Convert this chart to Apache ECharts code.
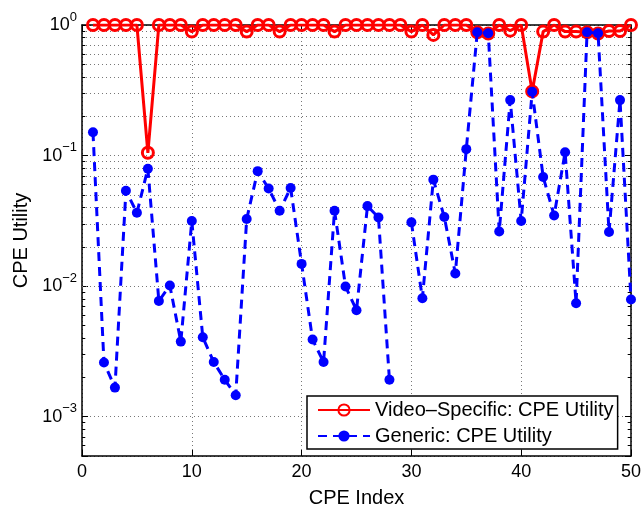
<!DOCTYPE html>
<html>
<head>
<meta charset="utf-8">
<script src="https://cdn.jsdelivr.net/npm/echarts@6/dist/echarts.min.js"></script>
<style>
html,body{margin:0;padding:0;background:#fff;}
#chart{width:644px;height:513px;}
</style>
</head>
<body>
<div id="chart"></div>
<script>
const cpeIndex = [1,2,3,4,5,6,7,8,9,10,11,12,13,14,15,16,17,18,19,20,21,22,23,24,25,26,27,28,29,30,31,32,33,34,35,36,37,38,39,40,41,42,43,44,45,46,47,48,49,50];
const videoSpecific = [1,1,1,1,1,0.105,1,1,1,0.89,1,1,1,1,0.89,1,1,0.89,1,1,1,1,0.89,1,1,1,1,1,1,0.89,1,0.84,1,1,1,0.88,0.86,1,0.905,1,0.31,0.89,1,0.89,0.89,0.88,0.86,0.9,0.9,1];
const generic = [0.151,0.0026,0.00167,0.0537,0.0365,0.0793,0.0077,0.0101,0.00376,0.0315,0.00406,0.00262,0.00192,0.00146,0.0327,0.076,0.0559,0.0378,0.0565,0.0148,0.0039,0.00262,0.0378,0.00995,0.00654,0.041,0.0336,0.00192,null,0.0308,0.00807,0.0654,0.0338,0.0125,0.112,0.88,0.865,0.0262,0.266,0.0315,0.308,0.0686,0.0348,0.106,0.0074,0.88,0.865,0.026,0.266,0.0079];
const xTicks = [0,10,20,30,40,50];
const yMinorTicks = [0.0005,0.0006,0.0007,0.0008,0.0009,
  0.002,0.003,0.004,0.005,0.006,0.007,0.008,0.009,
  0.02,0.03,0.04,0.05,0.06,0.07,0.08,0.09,
  0.2,0.3,0.4,0.5,0.6,0.7,0.8,0.9];
const seriesNames = ['Video\u2013Specific: CPE Utility','Generic: CPE Utility'];

const FONT = '"Liberation Sans", Arial, Helvetica, sans-serif';
const gridDot = {color:'#777', width:1, type:[1,3]};

function yLabel(v){
  const l = Math.log10(v);
  const e = Math.round(l);
  if (Math.abs(l - e) > 1e-6) return '';
  return '{b|10}{s|' + (e === 0 ? '0' : '\u2212' + (-e)) + '}';
}

const chart = echarts.init(document.getElementById('chart'), null, {renderer:'canvas'});

const minorGrid = yMinorTicks.map(v => ({yAxis: v}));
const minorTickMarks = [];
yMinorTicks.forEach(v => {
  minorTickMarks.push([{coord:[0, v]},{coord:[0.3, v]}]);
  minorTickMarks.push([{coord:[49.7, v]},{coord:[50, v]}]);
});

const option = {
  animation: false,
  backgroundColor: '#fff',
  textStyle: {fontFamily: FONT},
  grid: {left: 82, right: 12, top: 25, bottom: 54, containLabel: false},
  legend: {
    orient: 'vertical',
    left: 307, top: 396,
    padding: [3, 4, 2, 10],
    itemGap: 4,
    itemWidth: 52, itemHeight: 14,
    backgroundColor: '#fff',
    borderColor: '#000', borderWidth: 1.5,
    selectedMode: false,
    textStyle: {fontSize: 20, color: '#000', fontFamily: FONT, lineHeight: 22},
    data: seriesNames
  },
  xAxis: [{
    type: 'value', min: xTicks[0], max: xTicks[xTicks.length-1], interval: 10,
    position: 'bottom',
    axisLine: {show: true, onZero: false, lineStyle: {color: '#000', width: 1.5}},
    axisTick: {show: true, inside: true, length: 6, lineStyle: {color: '#000', width: 1}},
    axisLabel: {fontSize: 18, color: '#000', margin: 7, fontFamily: FONT},
    splitLine: {show: true, lineStyle: gridDot},
    name: 'CPE Index', nameLocation: 'middle', nameGap: 32,
    nameTextStyle: {fontSize: 20, color: '#000', fontFamily: FONT}
  },{
    type: 'value', min: xTicks[0], max: xTicks[xTicks.length-1], interval: 10,
    position: 'top',
    axisLine: {show: true, onZero: false, lineStyle: {color: '#000', width: 1.5}},
    axisTick: {show: true, inside: true, length: 6, lineStyle: {color: '#000', width: 1}},
    axisLabel: {show: false},
    splitLine: {show: false}
  }],
  yAxis: [{
    type: 'log', logBase: 10, min: 0.0005, max: 1,
    position: 'left',
    axisLine: {show: true, onZero: false, lineStyle: {color: '#000', width: 1.5}},
    axisTick: {show: true, inside: true, length: 6, lineStyle: {color: '#000', width: 1}},
    axisLabel: {
      color: '#000', margin: 5, fontFamily: FONT,
      formatter: yLabel,
      rich: {
        b: {fontSize: 18, color: '#000', fontFamily: FONT},
        s: {fontSize: 13, color: '#000', fontFamily: FONT, padding: [0,0,16,0]}
      }
    },
    splitLine: {show: true, lineStyle: gridDot},
    name: 'CPE Utility', nameLocation: 'middle', nameGap: 51,
    nameTextStyle: {fontSize: 20, color: '#000', fontFamily: FONT}
  },{
    type: 'log', logBase: 10, min: 0.0005, max: 1,
    position: 'right',
    axisLine: {show: true, onZero: false, lineStyle: {color: '#000', width: 1.5}},
    axisTick: {show: true, inside: true, length: 6, lineStyle: {color: '#000', width: 1}},
    axisLabel: {show: false},
    splitLine: {show: false}
  }],
  series: [{
    name: seriesNames[0],
    type: 'line',
    xAxisIndex: 0, yAxisIndex: 0,
    data: cpeIndex.map((x,i) => [x, videoSpecific[i]]),
    symbol: 'circle', symbolSize: 11,
    lineStyle: {color: '#ff0000', width: 3},
    itemStyle: {color: 'rgba(255,255,255,0)', borderColor: '#ff0000', borderWidth: 3},
    z: 3,
    markLine: {
      silent: true, symbol: ['none','none'], z: 1,
      label: {show: false},
      lineStyle: gridDot,
      emphasis: {disabled: true},
      data: minorGrid
    }
  },{
    name: seriesNames[1],
    type: 'line',
    xAxisIndex: 0, yAxisIndex: 0,
    data: cpeIndex.map((x,i) => [x, generic[i]]),
    connectNulls: false,
    symbol: 'circle', symbolSize: 10,
    lineStyle: {color: '#0000ff', width: 3, type: [9,6]},
    itemStyle: {color: '#0000ff'},
    z: 4,
    markLine: {
      silent: true, symbol: ['none','none'], z: 1,
      label: {show: false},
      lineStyle: {color: '#000', width: 1, type: 'solid'},
      emphasis: {disabled: true},
      data: minorTickMarks
    }
  }]
};
chart.setOption(option);
</script>
</body>
</html>
